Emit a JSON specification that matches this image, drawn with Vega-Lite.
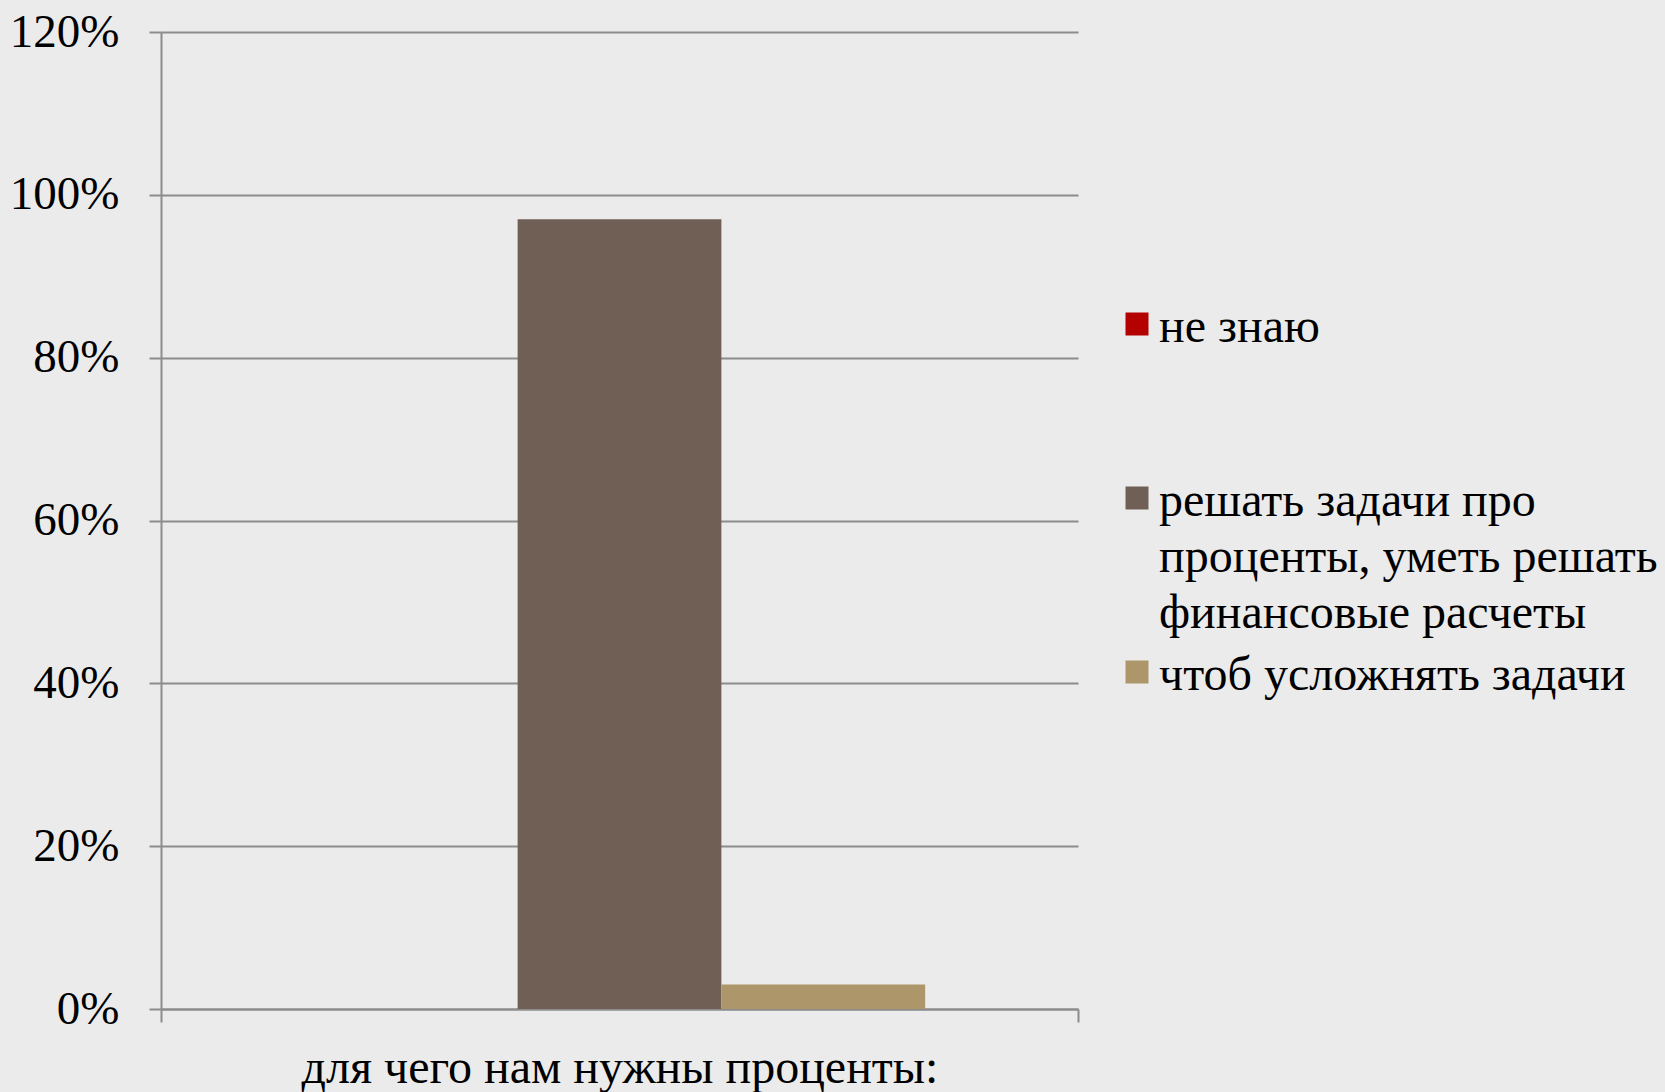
{
  "$schema": "https://vega.github.io/schema/vega-lite/v6.json",
  "width": 917,
  "height": 977,
  "autosize": {"type": "none"},
  "padding": {"left": 161, "top": 32, "right": 587, "bottom": 83},
  "background": "#ebebeb",
  "config": {
    "view": {"stroke": null},
    "font": "Liberation Serif"
  },
  "data": {
    "values": [
      {"q": "для чего нам нужны проценты:", "answer": "не знаю", "value": 0},
      {"q": "для чего нам нужны проценты:", "answer": "решать задачи про проценты, уметь решать финансовые расчеты", "value": 0.97},
      {"q": "для чего нам нужны проценты:", "answer": "чтоб усложнять задачи", "value": 0.03}
    ]
  },
  "mark": {"type": "bar"},
  "encoding": {
    "x": {
      "field": "q",
      "type": "nominal",
      "scale": {"paddingInner": 0, "paddingOuter": 0},
      "axis": {
        "title": "для чего нам нужны проценты:",
        "titleFont": "Liberation Serif",
        "titleFontSize": 48,
        "titleFontWeight": "normal",
        "titleColor": "#000000",
        "titlePadding": 21,
        "labels": false,
        "tickBand": "extent",
        "ticks": true,
        "tickSize": 13,
        "tickColor": "#8c8c8c",
        "tickWidth": 2,
        "domainColor": "#8c8c8c",
        "domainWidth": 2,
        "grid": false
      }
    },
    "xOffset": {
      "field": "answer",
      "type": "nominal",
      "sort": ["не знаю", "решать задачи про проценты, уметь решать финансовые расчеты", "чтоб усложнять задачи"],
      "scale": {"paddingInner": 0, "paddingOuter": 0.75}
    },
    "y": {
      "field": "value",
      "type": "quantitative",
      "scale": {"domain": [0, 1.2], "nice": false},
      "axis": {
        "title": null,
        "values": [0, 0.2, 0.4, 0.6, 0.8, 1.0, 1.2],
        "format": ".0%",
        "labelFont": "Liberation Serif",
        "labelFontSize": 47,
        "labelColor": "#000000",
        "labelPadding": 30,
        "tickSize": 12,
        "tickColor": "#8c8c8c",
        "tickWidth": 2,
        "domainColor": "#8c8c8c",
        "domainWidth": 2,
        "grid": true,
        "gridColor": "#8c8c8c",
        "gridWidth": 2
      }
    },
    "color": {
      "field": "answer",
      "type": "nominal",
      "sort": ["не знаю", "решать задачи про проценты, уметь решать финансовые расчеты", "чтоб усложнять задачи"],
      "scale": {
        "domain": ["не знаю", "решать задачи про проценты, уметь решать финансовые расчеты", "чтоб усложнять задачи"],
        "range": ["#b50000", "#6f5f55", "#ad9669"]
      },
      "legend": {
        "title": null,
        "orient": "none",
        "legendX": 952,
        "legendY": 268,
        "symbolType": "square",
        "symbolSize": 529,
        "symbolStrokeWidth": 0,
        "symbolOpacity": 1,
        "labelFont": "Liberation Serif",
        "labelFontSize": 48,
        "labelColor": "#000000",
        "labelOffset": -2,
        "labelLimit": 0,
        "labelBaseline": "top",
        "labelExpr": "datum.label == 'решать задачи про проценты, уметь решать финансовые расчеты' ? ['решать задачи про', 'проценты, уметь решать', 'финансовые расчеты'] : datum.label",
        "gridAlign": "all",
        "rowPadding": 10,
        "encode": {
          "labels": {"update": {"dy": {"value": -20}, "lineHeight": {"value": 56}}}
        }
      }
    }
  }
}
